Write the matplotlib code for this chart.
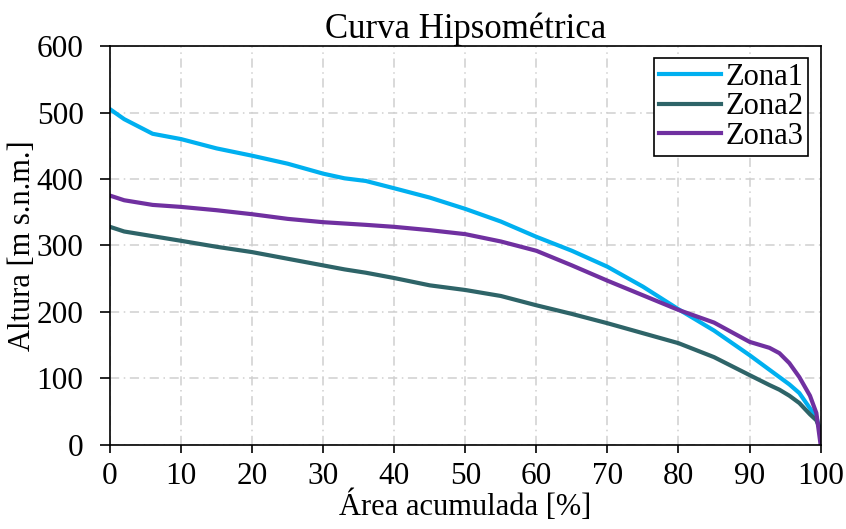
import numpy as np
import matplotlib.pyplot as plt

plt.rcParams['font.family'] = ['Liberation Serif', 'DejaVu Serif']

# area acumulada [%]
area = [0, 2, 6, 10, 15, 20, 25, 30, 33, 36, 40, 45, 50, 55, 60, 65, 70,
        75, 80, 85, 90, 92.8, 94.2, 95.6, 97, 98.5, 99.4, 100]

zona1 = [505, 490, 468, 460, 446, 435, 423, 408, 401, 397, 386, 372, 355,
         336, 313, 292, 268, 238, 204, 172, 135, 113, 102, 91, 78, 55, 42, 18]
zona2 = [328, 321, 314, 307, 298, 290, 280, 270, 264, 259, 251, 240, 233,
         224, 210, 197, 183, 168, 153, 132, 105, 90, 83, 74, 63, 46, 37, 22]
zona3 = [375, 368, 361, 358, 353, 347, 340, 335, 333, 331, 328, 323, 317,
         306, 292, 270, 247, 225, 203, 184, 155, 146, 138, 123, 102, 74, 48, 0]

colores = ['#00B0F0', '#2E6468', '#7030A0']

fig = plt.figure(figsize=(8.46, 5.29), dpi=100)
ax = fig.add_axes([0.130, 0.159, 0.840, 0.754])

ax.plot(area, zona1, color=colores[0], lw=3, label='Zona1')
ax.plot(area, zona2, color=colores[1], lw=3, label='Zona2')
ax.plot(area, zona3, color=colores[2], lw=3, label='Zona3')

ax.set_xlim(0, 100)
ax.set_ylim(0, 600)
ax.set_xticks(np.arange(0, 101, 10))
ax.set_yticks(np.arange(0, 601, 100))
ax.grid(True, color='#D0D0D0', linestyle=(0, (6, 3, 1, 3)), lw=1.1)
ax.tick_params(labelsize=22.5, direction='out', width=1.2)
ax.tick_params(axis='y', length=7, pad=12)
ax.tick_params(axis='x', length=6, pad=6)
for s in ax.spines.values():
    s.set_linewidth(1.2)

ax.set_title('Curva Hipsométrica', fontsize=25, pad=1)
ax.set_xlabel('Área acumulada [%]', fontsize=22, labelpad=0)
ax.set_ylabel('Altura [m s.n.m.]', fontsize=22, labelpad=0)

leg = ax.legend(loc='upper right', fontsize=22, fancybox=False, framealpha=1,
                edgecolor='black', handlelength=2.05, labelspacing=0.02,
                borderpad=0.15, handletextpad=0.15, borderaxespad=0.4)
leg.get_frame().set_linewidth(1.2)

fig.savefig('out.png', dpi=100)
